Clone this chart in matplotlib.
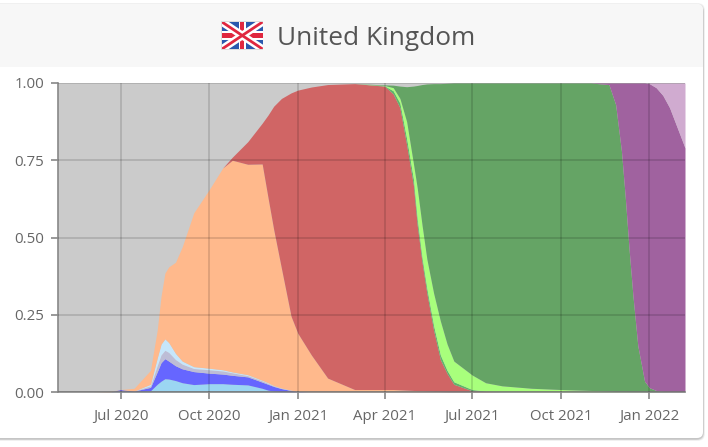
import numpy as np
import pandas as pd
import matplotlib
matplotlib.use("Agg")
import matplotlib.pyplot as plt
from matplotlib.patches import FancyBboxPatch, Rectangle

plt.rcParams['font.family'] = ['Open Sans', 'DejaVu Sans']

dates = ["2020-06-01","2020-06-20","2020-07-01","2020-07-15","2020-08-01","2020-08-08","2020-08-12","2020-08-16",
         "2020-08-20","2020-08-27","2020-09-03","2020-09-15","2020-10-01","2020-10-15","2020-10-25","2020-11-10",
         "2020-11-25","2020-12-01","2020-12-07","2020-12-15","2020-12-25","2021-01-01","2021-01-15","2021-02-01",
         "2021-03-01","2021-04-01","2021-04-10","2021-04-17","2021-04-24","2021-05-01","2021-05-05","2021-05-10",
         "2021-05-15","2021-05-22","2021-05-29","2021-06-05","2021-06-12","2021-07-01","2021-07-15","2021-08-01",
         "2021-09-01","2021-10-01","2021-11-01","2021-11-20","2021-11-27","2021-12-03","2021-12-07","2021-12-11",
         "2021-12-15","2021-12-20","2021-12-27","2022-01-01","2022-01-08","2022-01-15","2022-01-22","2022-02-07"]

# Cumulative upper edge of each stacked variant share
lb_top = [0,0,.003,.001,.004,.025,.035,.043,.042,.037,.03,.024,.027,.027,.025,.023,.012,.006,.003,.001,0,0] + [0]*34
blue_top = [0,0,.008,.003,.015,.065,.095,.108,.1,.085,.075,.066,.061,.058,.054,.049,.032,.025,.018,.011,.005,.002] + [0]*34
grey_top = [0,0,.008,.003,.02,.085,.12,.135,.128,.105,.09,.076,.072,.068,.062,.053,.036,.028,.02,.012,.005,.002] + [0]*34
pale_top = [0,0,.008,.003,.025,.11,.155,.172,.16,.125,.1,.082,.077,.072,.065,.056,.038,.03,.021,.013,.006,.002] + [0]*34
orange_top = [0,.002,.008,.012,.07,.2,.31,.385,.405,.42,.47,.58,.655,.725,.75,.737,.738,.63,.525,.40,.245,.19,.12,.045,
              .008,.008,.008,.007,.006,.005,.004,.004,.003,.002,.001] + [0]*21
red_top = [0,.002,.008,.012,.07,.2,.31,.385,.405,.42,.47,.58,.655,.725,.76,.81,.87,.896,.925,.95,.968,.977,.987,.995,
           .998,.99,.965,.92,.80,.67,.54,.42,.32,.20,.105,.06,.025,.004,.002] + [0]*17
thin_top = [0,.002,.008,.012,.07,.2,.31,.385,.405,.42,.47,.58,.655,.725,.76,.81,.87,.896,.925,.95,.968,.977,.987,.995,
            .998,.991,.975,.935,.82,.69,.56,.435,.335,.215,.12,.07,.033,.008,.003,.001] + [0]*16
lime_top = [0,.002,.008,.012,.07,.2,.31,.385,.405,.42,.47,.58,.655,.725,.76,.81,.87,.896,.925,.95,.968,.977,.987,.995,
            .998,.992,.985,.95,.875,.74,.66,.54,.43,.32,.23,.155,.10,.055,.03,.02,.012,.008,.005,.003,.002,.002,
            .002,.001,.001,.001,.001] + [0]*5
green_top = [0,.002,.008,.012,.07,.2,.31,.385,.405,.42,.47,.58,.655,.725,.76,.81,.87,.896,.925,.95,.968,.977,.987,.995,
             .998,.994,.993,.99,.988,.99,.992,.995,.997,.998,.998,.999,1,1,1,1,1,1,1,.995,.93,.78,.63,.46,.31,.15,
             .035,.014,.005,.002,.001,.001]
purple_top = [0,.002,.008,.012,.07,.2,.31,.385,.405,.42,.47,.58,.655,.725,.76,.81,.87,.896,.925,.95,.968,.977,.987,.995,
              .998,.994,.993,.99,.988,.99,.992,.995,.997,.998,.998,.999,1,1,1,1,1,1,1,1,1,1,1,1,1,1,
              1,.998,.985,.96,.92,.79]
plum_top = [0,.002,.008,.012,.07,.2,.31,.385,.405,.42,.47,.58,.655,.725,.76,.81,.87,.896,.925,.95,.968,.977,.987,.995,
            .998,.994,.993,.99,.988,.99,.992,.995,.997,.998,.998,.999,1,1,1,1,1,1,1,1,1,1,1,1,1,1,
            1,1,1,1,1,1]

layer_tops = [lb_top, blue_top, grey_top, pale_top, orange_top, red_top, thin_top, lime_top, green_top, purple_top, plum_top]
layer_colors = ["#9bd6f2", "#6666ff", "#bdbdd6", "#c6e6fb", "#ffb98c", "#d06565", "#5fb56a", "#a8ff7c", "#65a465", "#a0629f", "#d0abd0"]
y_ticks = [0, 0.25, 0.5, 0.75, 1.0]
x_ticks = ["2020-07-01", "2020-10-01", "2021-01-01", "2021-04-01", "2021-07-01", "2021-10-01", "2022-01-01"]
title = "United Kingdom"

W, H = 708, 447
fig = plt.figure(figsize=(W / 100, H / 100), dpi=100, facecolor="white")

bg = fig.add_axes([0, 0, 1, 1], zorder=0)
bg.set_xlim(0, W); bg.set_ylim(H, 0); bg.axis("off")
for i, a in zip(range(4, 0, -1), [.03, .05, .07, .09]):
    bg.add_patch(FancyBboxPatch((-20, 5 - i / 2), 723 + i / 2, 434 + i, boxstyle="round,pad=0,rounding_size=7",
                                fc="black", ec="none", alpha=a))
bg.add_patch(FancyBboxPatch((-20, 4), 723, 434, boxstyle="round,pad=0,rounding_size=6", fc="white", ec="none"))
bg.add_patch(FancyBboxPatch((-20, 4), 723, 70, boxstyle="round,pad=0,rounding_size=6", fc="#f7f7f7", ec="none"))
bg.add_patch(Rectangle((-20, 67), 723, 20, fc="white", ec="none"))
bg.text(376, 38.5, title, ha="center", va="center", fontsize=18.9, color="#555555")

# Flag
fx0, fx1, fy0, fy1 = 222, 262.5, 22, 49
bg.add_patch(Rectangle((fx0 - 0.7, fy0 - 0.7), fx1 - fx0 + 1.4, fy1 - fy0 + 1.4, fc="#dcdcdc", ec="none"))
fl = fig.add_axes([fx0 / W, 1 - fy1 / H, (fx1 - fx0) / W, (fy1 - fy0) / H], zorder=2)
fl.set_xlim(0, 60); fl.set_ylim(30, 0); fl.axis("off")
fl.add_patch(Rectangle((0, 0), 60, 30, fc="#2a58ad", ec="none"))
fl.plot([0, 60], [0, 30], color="white", lw=5.5, solid_capstyle="butt")
fl.plot([0, 60], [30, 0], color="white", lw=5.5, solid_capstyle="butt")
fl.plot([0, 60], [0, 30], color="#e0273f", lw=2.0, solid_capstyle="butt")
fl.plot([0, 60], [30, 0], color="#e0273f", lw=2.0, solid_capstyle="butt")
fl.add_patch(Rectangle((24.5, 0), 11, 30, fc="white", ec="none"))
fl.add_patch(Rectangle((0, 9.5), 60, 11, fc="white", ec="none"))
fl.add_patch(Rectangle((26.8, 0), 6.4, 30, fc="#e0273f", ec="none"))
fl.add_patch(Rectangle((0, 11.8), 60, 6.4, fc="#e0273f", ec="none"))

# Chart
ax = fig.add_axes([58 / W, 1 - 392 / H, 627 / W, 309 / H], zorder=1)
ax.set_facecolor("#cbcbcb")
x = pd.to_datetime(dates)
lower = np.zeros(len(dates))
for top, col in zip(layer_tops, layer_colors):
    top = np.array(top, dtype=float)
    ax.fill_between(x, lower, top, color=col, lw=0, zorder=2)
    lower = top

ax.set_xlim(pd.Timestamp("2020-04-27"), pd.Timestamp("2022-02-07"))
ax.set_ylim(0, 1)
ax.set_yticks(y_ticks)
ax.set_yticklabels([f"{v:.2f}" for v in y_ticks])
tick_dates = pd.to_datetime(x_ticks)
ax.set_xticks(tick_dates)
ax.set_xticklabels([d.strftime("%b %Y") for d in tick_dates])
ax.grid(True, color="black", alpha=0.13, lw=1.4, zorder=3)
ax.set_axisbelow(False)
for s in ("top", "right"):
    ax.spines[s].set_visible(False)
for s in ("left", "bottom"):
    ax.spines[s].set_color("#888888")
    ax.spines[s].set_linewidth(1.2)
ax.tick_params(axis="both", color="#888888", labelcolor="#666666", length=5, width=1.2, labelsize=10.8)
ax.tick_params(axis="x", pad=7)
ax.tick_params(axis="y", pad=5)

fig.savefig("out.png", dpi=100)
